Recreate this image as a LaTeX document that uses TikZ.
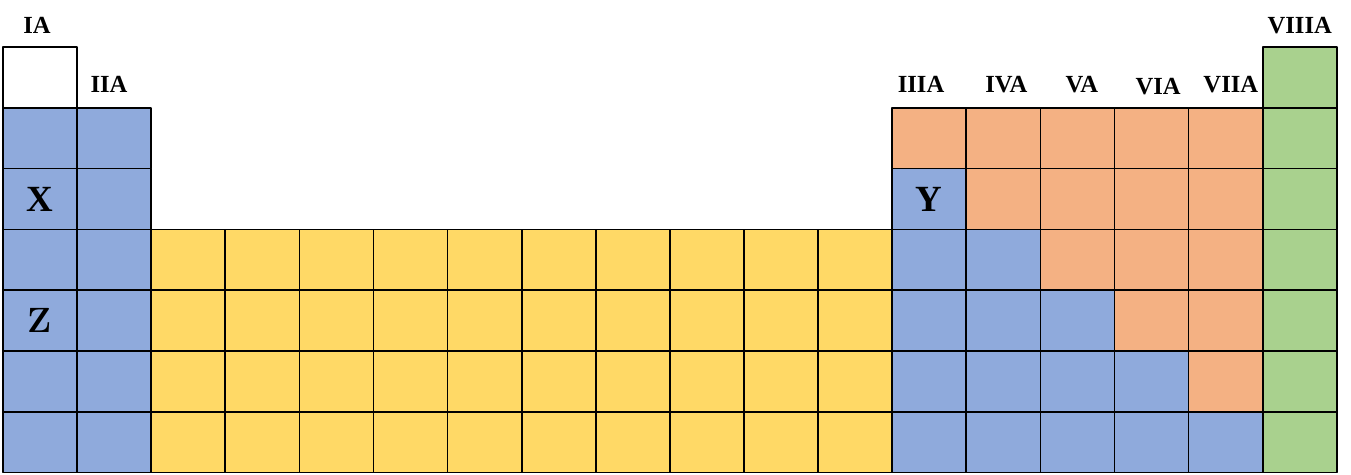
\documentclass[tikz,border=0pt]{standalone}
\usepackage{fontspec}
\setmainfont{Liberation Serif}
\newfontfamily\lmfont{Latin Modern Roman}
\definecolor{cellblue}{HTML}{8FAADC}
\definecolor{cellorange}{HTML}{F4B183}
\definecolor{cellyellow}{HTML}{FFD966}
\definecolor{cellgreen}{HTML}{A9D18E}
\begin{document}
\begin{tikzpicture}[x=1.482cm,y=-1.216cm,line join=round,
		grp/.style={font=\fontsize{14}{16}\selectfont\bfseries},
		elem/.style={font=\fontsize{21}{24}\selectfont\bfseries}]
		\useasboundingbox (-0.0405,-0.773) rectangle (18.192,7.039);
		% coloured blocks
		\fill[cellblue] (0,1) rectangle (2,7);
		\fill[cellyellow] (2,3) rectangle (12,7);
		\fill[cellgreen] (17,0) rectangle (18,7);
		\foreach \r in {2,...,7}{\fill[cellblue] (12,\r-1) rectangle (\r+10,\r);
			\fill[cellorange] (\r+10,\r-1) rectangle (17,\r);}
		% grid
		\foreach \c/\rmin in {1/1,2/2,3/4,4/4,5/4,6/4,7/4,8/4,9/4,10/4,11/4,12/4,13/2,14/2,15/2,16/2,17/2,18/1}{
			\foreach \r in {\rmin,...,7}{\draw[line width=1pt] (\c-1,\r-1) rectangle (\c,\r);}}
		% group labels
		\node[grp] (gIA) at (0.46,-0.36) {IA};
		\node[grp] (gIIA) at (1.43,0.62) {IIA};
		\node[grp] (gIIIA) at (12.39,0.62) {IIIA};
		\node[grp] (gIVA) at (13.54,0.62) {IVA};
		\node[grp] (gVA) at (14.56,0.62) {VA};
		\node[grp] (gVIA) at (15.59,0.65) {VIA};
		\node[grp] (gVIIA) at (16.57,0.62) {VIIA};
		\node[grp] (gVIIIA) at (17.50,-0.36) {VIIIA};
		% elements
		\node[elem] (X) at (0.5,2.5) {X};
		\node[elem] (Y) at (12.5,2.5) {Y};
		\node[elem,font=\fontsize{20}{24}\selectfont\lmfont\bfseries] (Z) at (0.5,4.5) {Z};
	\end{tikzpicture}
\end{document}
